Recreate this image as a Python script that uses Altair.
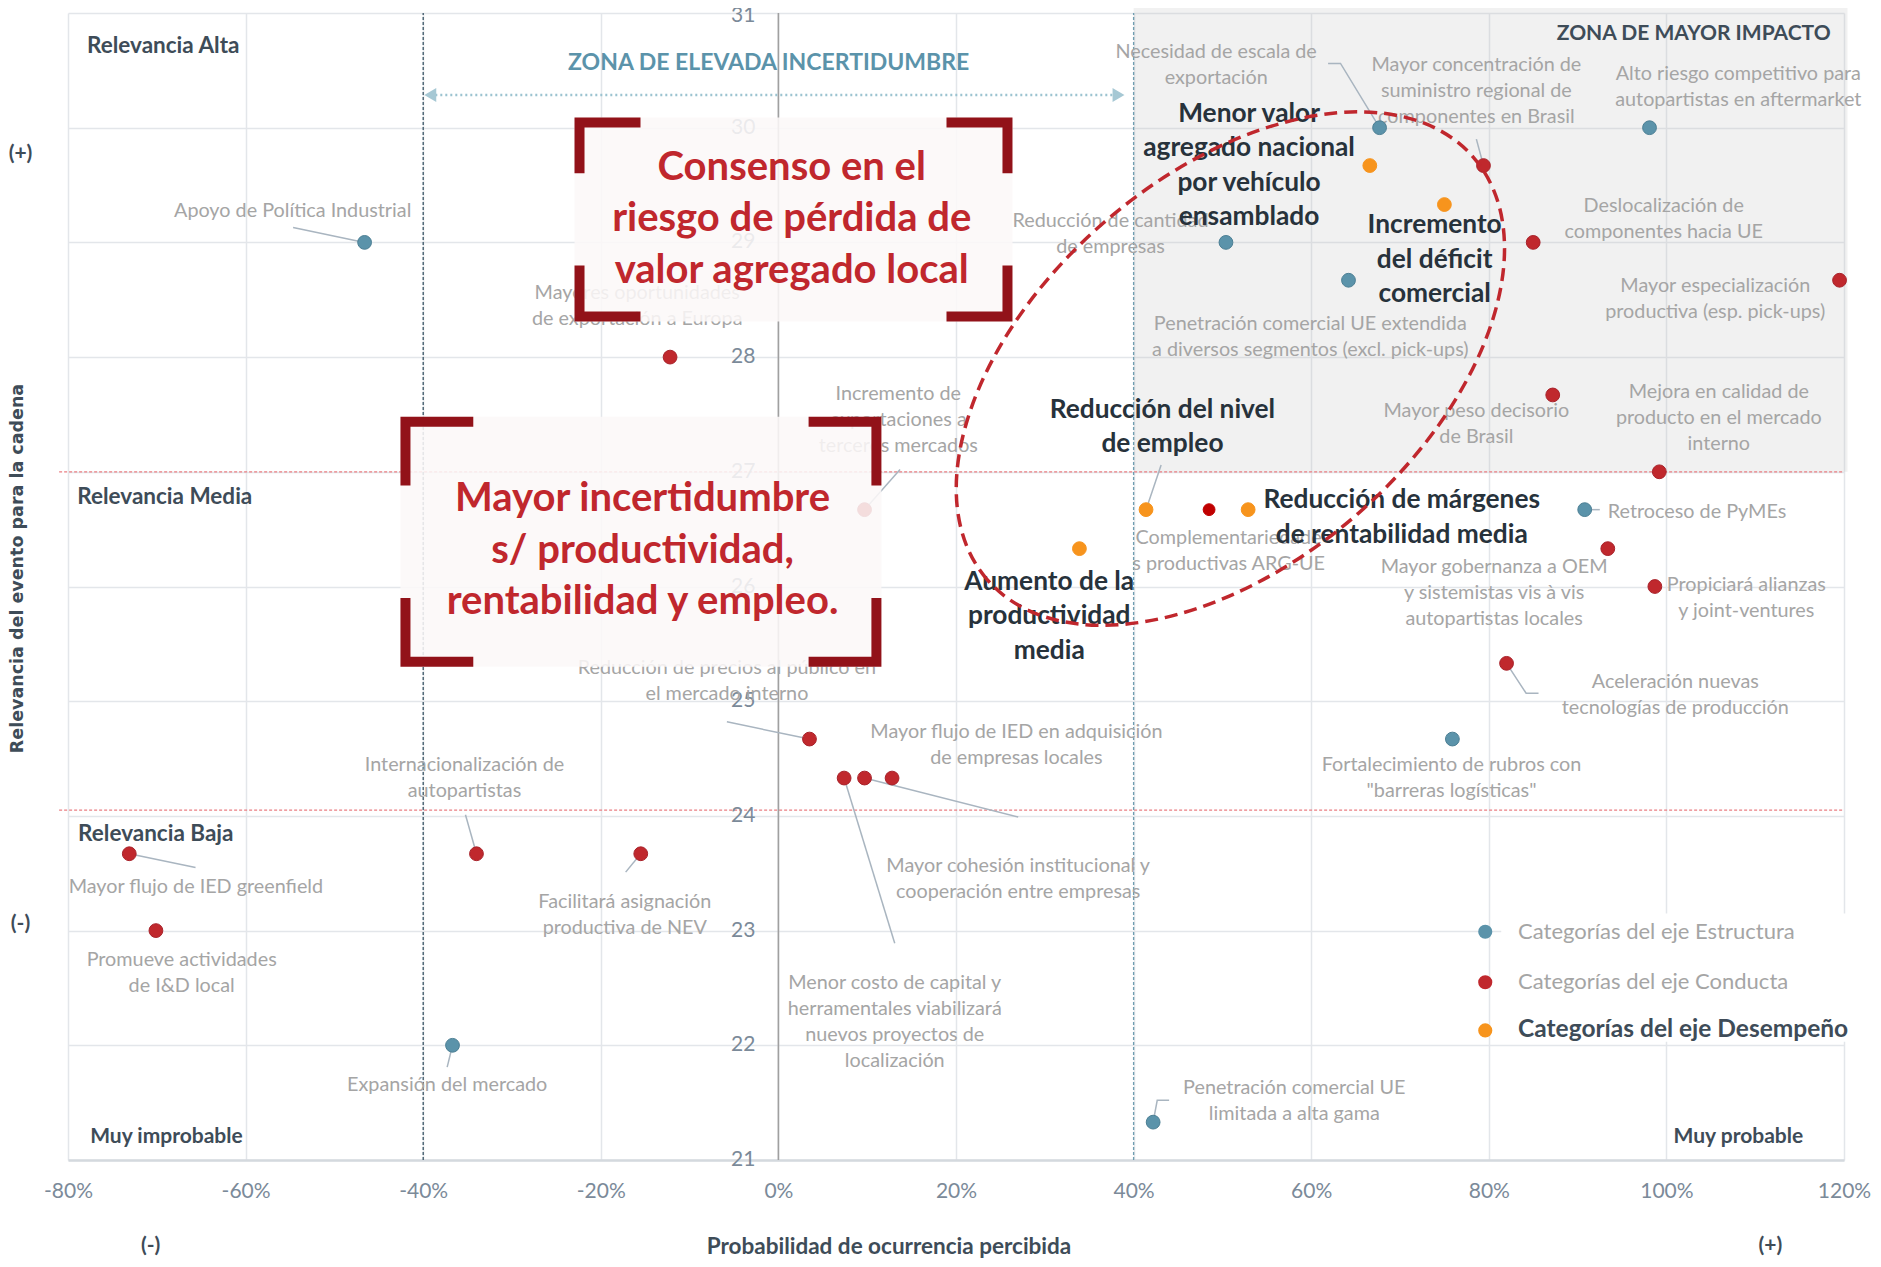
import altair as alt
import pandas as pd

FONT = "Lato"
GREY_TXT = "#a5a5a5"
DARK_TXT = "#27323b"
SLATE = "#3e4c58"

# ---------------- axes ----------------
x_ticks = [-80, -60, -40, -20, 0, 20, 40, 60, 80, 100, 120]
y_ticks = [21, 22, 23, 24, 25, 26, 27, 28, 29, 30, 31]
y_tick_labels = ["21", "22", "23", "24", "25", "26", "27", "28", "29", "30", "31"]

# ---------------- points ----------------
est_x = [-46.6, 67.7, 98.1, 50.4, 64.2, 90.8, 75.9, -36.7, 42.2]
est_y = [29.0, 30.0, 30.0, 29.0, 28.67, 26.67, 24.67, 22.0, 21.33]

con_x = [79.4, 85.0, 119.5, 87.2, 99.2, 93.4, 98.7, 82.0, 9.7, -12.2, 3.5, 7.4, 9.7, 12.8, -34.0, -15.5, -73.1, -70.1]
con_y = [29.67, 29.0, 28.67, 27.67, 27.0, 26.33, 26.0, 25.33, 26.67, 28.0, 24.67, 24.33, 24.33, 24.33, 23.67, 23.67, 23.67, 23.0]

des_x = [66.6, 75.0, 41.4, 52.9, 33.9]
des_y = [29.67, 29.33, 26.67, 26.67, 26.33]

comp_x = [48.5]
comp_y = [26.67]

cat_colors = {"Estructura": "#5b93aa", "Conducta": "#c0282d", "Desempeño": "#f7941d", "Comp": "#c00000"}
cat_strokes = {"Estructura": "#4c7f94", "Conducta": "#a8222a", "Desempeño": "#f7941d", "Comp": "#c00000"}

# ---------------- grey labels ----------------
lab_text = [
    "Apoyo de Política Industrial",
    "Necesidad de escala de\nexportación",
    "Mayor concentración de\nsuministro regional de\ncomponentes en Brasil",
    "Alto riesgo competitivo para\nautopartistas en aftermarket",
    "Reducción de cantidad\nde empresas",
    "Penetración comercial UE extendida\na diversos segmentos (excl. pick-ups)",
    "Deslocalización de\ncomponentes hacia UE",
    "Mayor especialización\nproductiva (esp. pick-ups)",
    "Mayor peso decisorio\nde Brasil",
    "Mejora en calidad de\nproducto en el mercado\ninterno",
    "Mayor gobernanza a OEM\ny sistemistas vis à vis\nautopartistas locales",
    "Propiciará alianzas\ny joint-ventures",
    "Aceleración nuevas\ntecnologías de producción",
    "Fortalecimiento de rubros con\n\"barreras logísticas\"",
    "Complementariedade\ns productivas ARG-UE",
    "Incremento de\nexportaciones a\nterceros mercados",
    "Mayores oportunidades\nde exportación a Europa",
    "Reducción de precios al público en\nel mercado interno",
    "Mayor flujo de IED en adquisición\nde empresas locales",
    "Mayor cohesión institucional y\ncooperación entre empresas",
    "Menor costo de capital y\nherramentales viabilizará\nnuevos proyectos de\nlocalización",
    "Internacionalización de\nautopartistas",
    "Facilitará asignación\nproductiva de NEV",
    "Mayor flujo de IED greenfield",
    "Promueve actividades\nde I&D local",
    "Expansión del mercado",
    "Penetración comercial UE\nlimitada a alta gama",
]
lab_x = [-54.7, 49.3, 78.6, 108.1, 37.4, 59.9, 99.7, 105.5, 78.6, 105.9, 80.6, 109.0, 101.0, 75.8, 50.7,
         13.5, -15.9, -5.8, 26.8, 27.0, 13.1, -35.35, -17.3, -65.6, -67.2, -37.3, 58.1]
lab_y = [29.27, 30.66, 30.55, 30.47, 29.19, 28.29, 29.32, 28.62, 27.53, 27.70, 26.17, 26.01, 25.17, 24.44, 26.42,
         27.68, 28.56, 25.29, 24.73, 23.56, 22.54, 24.44, 23.25, 23.38, 22.74, 21.65, 21.63]

left_lab_text = ["Retroceso de PyMEs"]
left_lab_x = [93.4]
left_lab_y = [26.65]

# ---------------- bold labels ----------------
bold_text = ["Menor valor\nagregado nacional\npor vehículo\nensamblado",
             "Incremento\ndel déficit\ncomercial",
             "Reducción del nivel\nde empleo",
             "Reducción de márgenes\nde rentabilidad media",
             "Aumento de la\nproductividad\nmedia"]
bold_x = [53.0, 73.9, 43.25, 70.2, 30.5]
bold_y = [30.12, 29.15, 27.54, 26.75, 26.04]

# ---------------- leader lines ----------------
leader_id = [1, 1, 2, 2, 2, 3, 3, 4, 4, 5, 5, 6, 6, 7, 7, 8, 8, 9, 9, 10, 10, 11, 11, 12, 12, 13, 13, 13, 14, 14, 15, 15, 15]
leader_x = [-54.65, -46.6, 61.9, 63.3, 67.7, 78.6, 79.4, 43.1, 41.4, 13.7, 9.7, -5.8, 3.5, 7.4, 13.1, 9.7, 27.0,
            -35.24, -34.0, -17.2, -15.5, -73.1, -65.64, -36.7, -37.3, 42.2, 42.66, 44.0, 90.8, 92.5, 82.0, 84.2, 85.6]
leader_y = [29.13, 29.0, 30.56, 30.56, 30.0, 29.9, 29.67, 27.06, 26.67, 27.02, 26.67, 24.82, 24.67, 24.33, 22.89,
            24.33, 23.99, 24.01, 23.67, 23.51, 23.67, 23.67, 23.55, 22.0, 21.81, 21.33, 21.52, 21.52, 26.67, 26.67,
            25.33, 25.07, 25.07]

# ---------------- zones / annotations ----------------
zone_x = [40, 120.4]
zone_y = [27, 31.05]
hline_y = [27, 24.05]
arrow_x = [-39.2, 38.3]
arrow_y = 30.285

box_x0 = [-22.96, -42.56]
box_x1 = [26.36, 11.6]
box_y0 = [28.31, 25.30]
box_y1 = [30.09, 27.48]
box_arm_dx = [7.43, 8.2]
box_arm_dy = [0.488, 0.60]
box_text = ["Consenso en el\nriesgo de pérdida de\nvalor agregado local",
            "Mayor incertidumbre\ns/ productividad,\nrentabilidad y empleo."]
box_tx = [1.5, -15.3]
box_ty = [29.65, 26.76]

ell_x = [50.9]
ell_y = [27.9]

corner_left_text = ["Relevancia Alta", "Relevancia Media", "Relevancia Baja"]
corner_left_x = [-77.86, -78.96, -78.86]
corner_left_y = [30.71, 26.78, 23.84]
corner_low_text = ["Muy improbable"]
corner_low_x = [-77.5]
corner_low_y = [21.2]
corner_right_text = ["Muy probable"]
corner_right_x = [115.4]
corner_right_y = [21.2]
impact_text = ["ZONA DE MAYOR IMPACTO"]
impact_x = [118.5]
impact_y = [30.82]

sign_text = ["(+)", "(-)", "(-)", "(+)"]
sign_x = [-85.35, -85.35, -70.7, 111.7]
sign_y = [29.77, 23.06, 20.25, 20.25]

legend_text = ["Categorías del eje Estructura", "Categorías del eje Conducta", "Categorías del eje Desempeño"]
legend_y = [22.99, 22.55, 22.13]
legend_pt_x = 79.6
legend_lab_x = 83.3
legend_box_x = [81.4, 120.4]
legend_box_y = [22.03, 23.15]

# ---------------- scales / helpers ----------------
XS = alt.Scale(domain=[-80, 120], nice=False, zero=False)
YS = alt.Scale(domain=[21, 31], nice=False, zero=False)

x_axis = alt.Axis(values=x_ticks, labelExpr="datum.value + '%'", labelFont=FONT, labelFontSize=21,
                  labelColor="#7b8a99", labelPadding=31, labelBaseline="middle", labelFlush=False,
                  labelOverlap=False, grid=True,
                  gridColor="#e3e6ea", gridWidth=1.5, domain=True, domainColor="#d4d9de", domainWidth=2.5,
                  ticks=False, title="Probabilidad de ocurrencia percibida", titleFont=FONT, titleFontSize=22.5,
                  titleFontWeight="bold", titleColor=SLATE, titleX=820.5, titleY=86, titleAlign="center",
                  titleBaseline="middle")
y_axis = alt.Axis(values=y_ticks, labels=False, ticks=False, domain=False, grid=True, gridColor="#e3e6ea",
                  gridWidth=1.5, title="Relevancia del evento para la cadena", titleFont="DejaVu Sans",
                  titleFontSize=17.5, titleFontWeight="bold", titleColor=SLATE, titleAngle=270, titleX=-50.5,
                  titleY=555, titleAlign="center", titleBaseline="middle")


def X(f="x"):
    return alt.X(f"{f}:Q", scale=XS, axis=x_axis)


def Y(f="y"):
    return alt.Y(f"{f}:Q", scale=YS, axis=y_axis)


def df(**kw):
    return pd.DataFrame(kw)


def text_layer(xs, ys, ts, **mk):
    return (alt.Chart(df(x=xs, y=ys, t=ts))
            .mark_text(font=FONT, baseline="middle", **mk)
            .encode(x=X(), y=Y(), text="t:N"))


layers = []

# grey zone
layers.append(alt.Chart(df(x=[zone_x[0]], x2=[zone_x[1]], y=[zone_y[0]], y2=[zone_y[1]]))
              .mark_rect(fill="#c0c0c0", opacity=0.22)
              .encode(x=X(), x2="x2", y=Y(), y2="y2"))

# red dashed horizontal lines
layers.append(alt.Chart(df(y=hline_y, x=[-81, -81], x2=[120, 120]))
              .mark_rule(color="#ea7f83", strokeDash=[3, 2], strokeWidth=1.3)
              .encode(x=X(), x2="x2", y=Y()))

# vertical reference lines
for vx, col, dash, w in [(-40, "#3b5566", [3, 2], 1.3), (0, "#a0a0a0", [1, 0], 1.6), (40, "#6e9db0", [3, 2], 1.3)]:
    layers.append(alt.Chart(df(x=[vx], y=[21], y2=[31]))
                  .mark_rule(color=col, strokeDash=dash, strokeWidth=w)
                  .encode(x=X(), y=Y(), y2="y2"))

# y tick labels along the 0% line (top one nudged to stay inside the page)
layers.append(text_layer([0] * (len(y_ticks) - 1), y_ticks[:-1], y_tick_labels[:-1], fontSize=21,
                         color="#7b8a99", align="right", dx=-23))
layers.append(text_layer([0], y_ticks[-1:], y_tick_labels[-1:], fontSize=21,
                         color="#7b8a99", align="right", dx=-23, dy=3))

# leader lines
layers.append(alt.Chart(df(id=leader_id, x=leader_x, y=leader_y, o=list(range(len(leader_x)))))
              .mark_line(color="#a9b5c0", strokeWidth=1.5)
              .encode(x=X(), y=Y(), detail="id:N", order="o:Q"))

# grey labels
layers.append(text_layer(lab_x, lab_y, lab_text, fontSize=19.8, color=GREY_TXT, align="center",
                         lineBreak="\n", lineHeight=26))
layers.append(text_layer(left_lab_x, left_lab_y, left_lab_text, fontSize=19.8, color=GREY_TXT, align="left"))

# points
for xs, ys, c, s in [(est_x, est_y, "Estructura", 190), (con_x, con_y, "Conducta", 190),
                     (des_x, des_y, "Desempeño", 190), (comp_x, comp_y, "Comp", 140)]:
    layers.append(alt.Chart(df(x=xs, y=ys))
                  .mark_circle(size=s, color=cat_colors[c], stroke=cat_strokes[c], strokeWidth=1, opacity=1)
                  .encode(x=X(), y=Y()))

# annotation boxes (overlay + brackets + text)
layers.append(alt.Chart(df(x=box_x0, x2=box_x1, y=box_y0, y2=box_y1))
              .mark_rect(fill="#fcf8f8", opacity=0.87)
              .encode(x=X(), x2="x2", y=Y(), y2="y2"))

bx, by, bid, bo = [], [], [], []
ix, iy = 0.563, 0.0436
k = 0
for i in range(len(box_x0)):
    x0, x1, y0, y1 = box_x0[i], box_x1[i], box_y0[i], box_y1[i]
    adx, ady = box_arm_dx[i], box_arm_dy[i]
    L, R, B, T = x0 + ix, x1 - ix, y0 + iy, y1 - iy
    corners = [
        [(x0 + adx, T), (L, T), (L, y1 - ady)],
        [(x1 - adx, T), (R, T), (R, y1 - ady)],
        [(x0 + adx, B), (L, B), (L, y0 + ady)],
        [(x1 - adx, B), (R, B), (R, y0 + ady)],
    ]
    for c in corners:
        for j, (px, py) in enumerate(c):
            bx.append(px)
            by.append(py)
            bid.append(k)
            bo.append(j)
        k += 1
layers.append(alt.Chart(df(x=bx, y=by, id=bid, o=bo))
              .mark_line(color="#921219", strokeWidth=10, strokeJoin="miter", strokeCap="butt")
              .encode(x=X(), y=Y(), detail="id:N", order="o:Q"))
layers.append(text_layer(box_tx, box_ty, box_text, fontSize=40, fontWeight="bold", color="#c0272d",
                         align="center", lineBreak="\n", lineHeight=51.5))

# uncertainty arrow + zone titles
layers.append(alt.Chart(df(x=[arrow_x[0]], x2=[arrow_x[1]], y=[arrow_y]))
              .mark_rule(color="#9cc3d0", strokeDash=[2, 3], strokeWidth=2.5)
              .encode(x=X(), x2="x2", y=Y()))
layers.append(alt.Chart(df(x=[arrow_x[0]], y=[arrow_y]))
              .mark_point(shape="triangle-left", size=190, filled=True, color="#a6c8d4", opacity=1)
              .encode(x=X(), y=Y()))
layers.append(alt.Chart(df(x=[arrow_x[1]], y=[arrow_y]))
              .mark_point(shape="triangle-right", size=190, filled=True, color="#a6c8d4", opacity=1)
              .encode(x=X(), y=Y()))
layers.append(text_layer([-1.1], [30.56], ["ZONA DE ELEVADA INCERTIDUMBRE"], fontSize=23, fontWeight="bold",
                         color="#5b93aa", align="center"))

layers.append(text_layer(corner_left_x, corner_left_y, corner_left_text, fontSize=22.5, fontWeight="bold",
                         color=SLATE, align="left"))
layers.append(text_layer(corner_low_x, corner_low_y, corner_low_text, fontSize=21, fontWeight="bold",
                         color=SLATE, align="left"))
layers.append(text_layer(corner_right_x, corner_right_y, corner_right_text, fontSize=21, fontWeight="bold",
                         color=SLATE, align="right"))
layers.append(text_layer(impact_x, impact_y, impact_text, fontSize=21, fontWeight="bold",
                         color=SLATE, align="right"))

# bold labels
layers.append(text_layer(bold_x, bold_y, bold_text, fontSize=26.3, fontWeight="bold", color=DARK_TXT,
                         align="center", lineBreak="\n", lineHeight=34.5))

# dashed ellipse
ELLIPSE = ("M -1 0 C -1 -0.3314 -0.5523 -0.6 0 -0.6 C 0.5523 -0.6 1 -0.3314 1 0 "
           "C 1 0.3314 0.5523 0.6 0 0.6 C -0.5523 0.6 -1 0.3314 -1 0 Z")
layers.append(alt.Chart(df(x=ell_x, y=ell_y))
              .mark_point(shape=ELLIPSE, size=414736, angle=319, filled=False, color="#c0272d",
                          strokeWidth=3.5, strokeDash=[13, 7], opacity=1)
              .encode(x=X(), y=Y()))

# legend
layers.append(alt.Chart(df(x=[legend_box_x[0]], x2=[legend_box_x[1]], y=[legend_box_y[0]], y2=[legend_box_y[1]]))
              .mark_rect(fill="white", opacity=1)
              .encode(x=X(), x2="x2", y=Y(), y2="y2"))
for i, c in enumerate(["Estructura", "Conducta", "Desempeño"]):
    layers.append(alt.Chart(df(x=[legend_pt_x], y=[legend_y[i]]))
                  .mark_circle(size=200, color=cat_colors[c], opacity=1)
                  .encode(x=X(), y=Y()))
layers.append(text_layer([legend_lab_x] * 2, legend_y[:2], legend_text[:2], fontSize=22, color=GREY_TXT,
                         align="left"))
layers.append(text_layer([legend_lab_x], legend_y[2:], legend_text[2:], fontSize=24.5, fontWeight="bold",
                         color=SLATE, align="left"))

# (+)/(-) markers
layers.append(text_layer(sign_x, sign_y, sign_text, fontSize=21, fontWeight="bold", color=SLATE, align="center"))

chart = (alt.layer(*layers)
         .properties(width=1776, height=1147, autosize=alt.AutoSizeParams(type="none"),
                     padding={"left": 60, "top": 5, "right": 29, "bottom": 99})
         .configure_view(strokeWidth=0))

chart.save("out.html", embed_options={"renderer": "svg", "actions": False})
